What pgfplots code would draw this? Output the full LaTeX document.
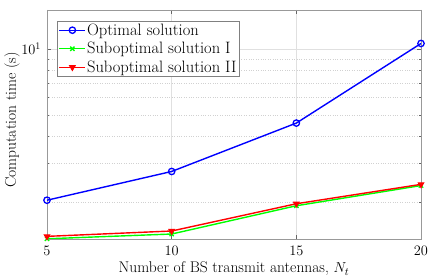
\documentclass[border=0pt]{standalone}
\usepackage{fontspec}
\usepackage{pgfplots}
\pgfplotsset{compat=1.18}
\begin{document}
\begin{tikzpicture}
\begin{axis}[
  at={(0,0)}, anchor=south west,
  scale only axis,
  width=374pt, height=229pt,
  xmin=5, xmax=20,
  ymode=log,
  ymin=1.357, ymax=15.07,
  xtick={5,10,15,20},
  ytick={10},
  minor ytick={2,3,4,5,6,7,8,9},
  grid=both,
  major grid style={color=black!12, line width=0.4pt},
  minor grid style={color=black!18, dotted, line width=0.4pt},
  axis line style={color=black!40, line width=0.6pt},
  tick style={color=black!60, line width=0.4pt},
  major tick length=4pt, minor tick length=2.5pt,
  tick label style={font=\fontsize{14}{16}\selectfont},
  xticklabel style={yshift=-4pt},
  yticklabel style={xshift=-2.5pt},
  xlabel={Number of BS transmit antennas, $N_t$},
  ylabel={Computation time (s)},
  xlabel style={font=\fontsize{15.5}{18}\selectfont, at={(axis description cs:0.5,0)}, anchor=base, yshift=-34pt},
  ylabel style={font=\fontsize{15.5}{18}\selectfont, at={(axis description cs:-0.0936,0.52)}, anchor=center},
  legend style={at={(0.0267,0.952)}, anchor=north west, draw=black!50, fill=white,
    font=\fontsize{16.5}{19}\selectfont, inner xsep=1.5pt, inner ysep=1.5pt, row sep=3.5pt,
    nodes={inner xsep=1pt, inner ysep=1pt}},
  legend cell align=left,
  legend image code/.code={\draw[mark repeat=2,mark phase=2] plot coordinates {(0pt,0pt) (13pt,0pt) (26pt,0pt)};},
]
\addplot[color=blue, line width=1.4pt, mark=o, mark size=3.2pt, mark options={line width=1.3pt}]
  coordinates {(5,2.04) (10,2.76) (15,4.59) (20,10.6)};
\addlegendentry{Optimal solution}
\addplot[color=green, line width=1.4pt, mark=x, mark size=3pt, mark options={line width=1.3pt}]
  coordinates {(5,1.36) (10,1.43) (15,1.925) (20,2.38)};
\addlegendentry{Suboptimal solution I}
\addplot[color=red, line width=1.4pt, mark=triangle*, mark size=3.2pt, mark options={rotate=180, line width=1pt}]
  coordinates {(5,1.395) (10,1.476) (15,1.966) (20,2.41)};
\addlegendentry{Suboptimal solution II}
\end{axis}
\pgfresetboundingbox
\path[use as bounding box] (-47pt,-39pt) rectangle (389pt,239pt);
\end{tikzpicture}
\end{document}
